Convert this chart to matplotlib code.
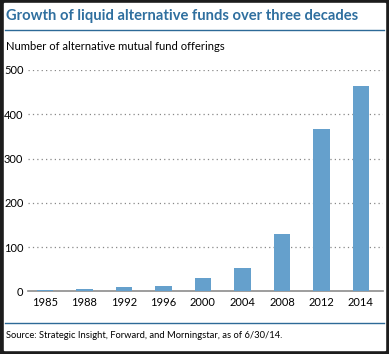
import matplotlib
matplotlib.use("Agg")
import matplotlib.pyplot as plt
from matplotlib.patches import Rectangle
from matplotlib.lines import Line2D

years = ["1985", "1988", "1992", "1996", "2000", "2004", "2008", "2012", "2014"]
funds = [3, 5, 10, 12, 30, 53, 129, 366, 464]
yticks = [0, 100, 200, 300, 400, 500]

W, H = 389, 354
BLUE_TXT = "#2f6f9f"
BAR = "#65a0cc"
FONT = ["Lato", "DejaVu Sans"]
plt.rcParams["font.family"] = FONT

fig = plt.figure(figsize=(W / 100, H / 100), dpi=100, facecolor="#1c1c1c")
fig.patches.append(Rectangle((4 / W, 1 - 350 / H), 381 / W, 347 / H,
                             transform=fig.transFigure, color="white", zorder=-5))


def fx(px):
    return px / W


def fy(py):
    return 1 - py / H


fig.text(fx(6), fy(16), "Growth of liquid alternative funds over three decades",
         color=BLUE_TXT, fontsize=10.6, fontweight="bold", va="center", ha="left")
fig.add_artist(Line2D([fx(5), fx(384)], [fy(29.5), fy(29.5)], color="#2d6a97", lw=1))
fig.text(fx(6), fy(46), "Number of alternative mutual fund offerings",
         color="black", fontsize=8.1, va="center", ha="left")
fig.add_artist(Line2D([fx(5), fx(384)], [fy(322.5), fy(322.5)], color="#2d6a97", lw=1))
fig.text(fx(6), fy(335), "Source: Strategic Insight, Forward, and Morningstar, as of 6/30/14.",
         color="black", fontsize=6.75, va="center", ha="left")

# axes: x 28..383 px, y 0->291 px, 500->70 px
y0, y500 = 291.3, 70
ax = fig.add_axes([fx(28), fy(y0), fx(383 - 28), (y0 - y500) / H])
ax.set_facecolor("none")
x = list(range(len(years)))
ax.bar(x, funds, width=0.42, color=BAR, zorder=3)
ax.set_xlim(-0.43, 8.56)
ax.set_ylim(0, 500)
ax.set_yticks(yticks)
ax.set_xticks(x)
ax.set_xticklabels(years)
for v in yticks[1:]:
    ax.axhline(v, color="#888888", lw=0.9, ls=(0, (1, 2.5)), zorder=1)
ax.axhline(0, color="#8c8c8c", lw=1.2, zorder=2, clip_on=False)
for s in ax.spines.values():
    s.set_visible(False)
ax.tick_params(length=0, labelsize=8, colors="black", pad=4)
ax.tick_params(axis="y", pad=3.3)

fig.savefig("out.png", dpi=100, facecolor=fig.get_facecolor())
